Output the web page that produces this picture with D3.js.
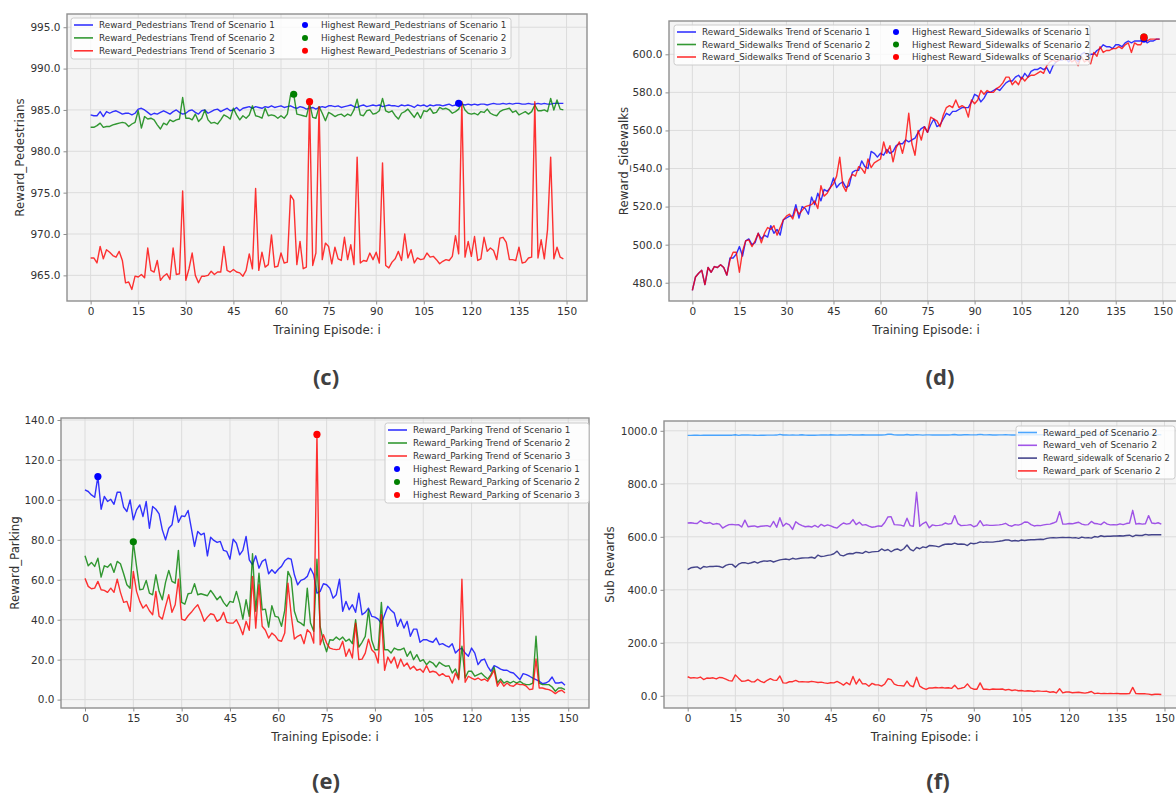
<!DOCTYPE html>
<html>
<head>
<meta charset="utf-8">
<script src="https://cdn.jsdelivr.net/npm/d3@7"></script>
<style>
  body { margin: 0; background: #fff; }
  svg { display: block; }
</style>
</head>
<body>
<svg id="chart" width="1176" height="796"></svg>
<script>
// episodes on the x axis
const episodes = d3.range(150);
const xTicks = [0, 15, 30, 45, 60, 75, 90, 105, 120, 135, 150];

// (c) Reward_Pedestrians
const pedTicks = [965, 970, 975, 980, 985, 990, 995];
const pedS1 = [984.4,984.3,984.3,984.8,984.2,984.8,984.6,984.8,984.9,984.7,
  984.5,984.6,984.6,984.4,984.6,985.1,985.2,985.0,984.7,984.4,
  984.6,984.5,984.7,984.9,984.7,984.5,984.8,985.0,984.7,984.5,
  984.6,984.9,985.0,984.7,984.5,984.9,985.0,984.6,984.8,985.0,
  985.1,984.8,985.0,985.2,984.9,985.0,985.3,984.9,985.2,985.3,
  985.4,985.2,985.4,985.3,985.2,985.4,985.3,985.5,985.3,985.4,
  985.5,985.3,985.4,985.5,985.3,985.2,985.4,985.3,985.1,985.2,
  985.3,985.1,985.3,985.4,985.3,985.5,985.5,985.4,985.5,985.3,
  985.4,985.5,985.6,985.4,985.3,985.5,985.6,985.4,985.5,985.6,
  985.5,985.6,985.4,985.5,985.6,985.5,985.5,985.4,985.6,985.5,
  985.6,985.5,985.3,985.6,985.5,985.6,985.4,985.6,985.5,985.6,
  985.6,985.5,985.6,985.7,985.5,985.6,985.8,985.7,985.6,985.7,
  985.6,985.7,985.6,985.7,985.7,985.6,985.7,985.8,985.7,985.7,
  985.8,985.7,985.8,985.7,985.8,985.8,985.7,985.7,985.8,985.7,
  985.7,985.8,985.7,985.8,985.7,985.7,985.8,985.8,985.8,985.8];
const pedS2 = [982.9,982.9,983.1,983.4,982.9,983.0,983.0,983.2,983.3,983.4,
  983.5,983.4,983.0,983.3,983.5,984.9,982.8,984.2,983.9,984.0,
  983.8,983.2,982.7,983.4,983.2,983.8,983.6,983.8,983.9,986.5,
  984.0,984.0,983.8,984.5,983.6,984.0,985.0,983.8,983.4,983.5,
  983.3,983.8,984.4,984.2,983.9,985.2,984.4,983.8,984.3,984.0,
  984.4,985.5,984.3,984.2,984.0,985.2,984.3,984.4,984.3,984.0,
  984.3,984.0,984.5,986.8,986.9,984.5,984.4,984.3,984.2,985.8,
  984.1,984.0,985.4,984.6,983.7,984.7,984.5,984.2,984.4,984.5,
  984.2,984.5,984.3,985.0,986.3,984.4,984.3,984.9,985.0,984.5,
  984.6,984.9,986.4,984.9,984.7,984.9,984.3,983.9,984.6,984.8,
  985.1,984.6,984.1,984.7,984.0,984.9,984.8,985.2,984.6,984.7,
  985.3,985.1,985.2,985.0,984.6,984.8,985.1,985.9,985.0,984.6,
  984.5,984.6,984.4,984.8,984.7,985.1,984.6,984.4,984.3,984.8,
  985.0,985.1,985.2,984.7,984.9,984.4,984.6,984.8,984.5,984.8,
  985.6,984.9,984.9,985.0,984.8,986.4,985.0,986.2,985.1,985.0];
const pedS3 = [967.1,967.1,966.5,968.5,967.0,968.1,967.8,967.4,967.2,967.9,
  966.8,964.1,964.2,963.3,964.9,964.8,965.1,964.7,968.3,965.6,
  965.4,966.8,964.4,964.9,965.2,964.5,968.3,965.1,965.2,975.2,
  964.4,965.8,967.7,965.0,964.1,964.9,964.9,965.0,965.5,965.1,
  965.4,965.4,968.5,965.6,965.4,965.7,965.4,965.3,964.9,965.6,
  967.6,965.8,975.5,965.6,967.8,966.0,966.3,969.9,966.0,966.1,
  967.7,966.5,966.6,974.7,974.1,966.3,969.1,965.8,966.0,986.0,
  966.2,967.7,985.4,966.9,968.9,968.5,966.4,968.4,967.0,966.8,
  969.6,966.9,968.7,966.3,979.3,966.5,966.8,966.7,967.7,966.9,
  967.8,966.5,978.6,966.2,965.9,966.6,967.0,967.9,966.8,970.0,
  967.1,968.1,966.5,967.1,966.9,967.0,967.7,967.2,967.3,966.9,
  966.4,966.7,966.9,966.8,967.3,969.8,967.6,986.0,967.2,969.1,
  967.3,969.7,966.8,967.0,969.6,967.9,968.3,968.0,966.9,969.5,
  969.6,969.0,966.9,966.9,966.8,968.4,966.5,966.6,967.1,967.2,
  986.0,967.1,969.3,967.0,970.5,979.3,967.0,968.4,967.2,967.0];

// (d) Reward_Sidewalks
const sideTicks = [480, 500, 520, 540, 560, 580, 600];
const sideS3 = [476,483,485,486.5,479,488,485.5,488.5,488,489.5,
  488,484,492,496,496,485.5,496.5,502,502.5,499,
  502,506,501,506,509,508,510,505,509,513,
  515,516,513.5,519,516,518,520,520.5,521,523,
  519,531,525.5,527,530,532,536,546,531,528,
  534,537,536,541,540,537.5,545,540.5,543,544,
  545,554,548,552,543.5,551,554,548,555,569,
  553,547,560,555,562,559,567,566,565,562,
  568,572,573,572,576,572,573,572,567,576,
  574,576,581,579,581,580,580,582,583,585,
  588,588,584,586,584,588,586,588,589,589,
  590,591,590,594,596,597,596,597,598,597,
  598,596,597,594,599,596,597,595,601,599,
  604,601,602,602,603,603,604,603,605,606,
  601,606,605,605,609,607,608,608,608,608];
const sideS1 = [476,483,485,486.5,479,488,485.5,488.5,488,489.5,
  488,484,493,493,495,499,494,502,503,500,
  501,506,503,505,504,510,506,508,505,513,
  514,515,515,521,514,520,519,516,525,521,
  527,523,529,528,530,535,530,532,533,530,
  531,538,539,539,544,541,540,549,548,546,
  548,547,550,548,549,552,553,553,555,554,
  555,556,559,561,562,559,563,566,562,563,
  566,569,568,570,570,571,572,572,572,575,
  579,578,575,577,580,580,581,582,581,583,
  585,586,586,588,589,587,590,588,591,592,
  592,593,592,593,590,594,596,597,597,598,
  596,598,598,596,600,601,599,600,600,602,
  603,605,604,604,603,605,605,604,606,607,
  606,607,607,607,608,606,607,607,608,608];
// scenario 2 lies exactly under scenario 3 in the picture
const sideS2 = sideS3;

// (e) Reward_Parking
const parkTicks = [0, 20, 40, 60, 80, 100, 120, 140];
const parkS1 = [105,104.2,102.5,101.3,111.7,95.3,101.7,99.2,100.3,97.8,
  103.8,103.8,96.3,94.2,100,90,95,97.5,91.7,99.2,
  85.8,96.7,95.3,93,85,80,85.8,87.5,97,88.8,
  92,91.7,94.7,85.8,76.7,84.2,82.5,83.3,72,81.3,
  79.7,78.7,79.2,74.7,74.2,70.3,80.3,78.3,72.5,74.7,
  81.7,70,67.5,72,65.8,69.2,70.3,63,65,63.3,
  65.3,66.7,69.5,70.8,70.3,62.5,57.5,59.7,60.3,61.7,
  65.8,62.5,53.3,54.2,58,57.5,55.8,50.8,52.5,60.3,
  44.2,49.2,45,47.5,43.7,53.3,42.5,43.7,45.8,41.7,
  41.3,40.3,38,42.5,46.7,44.7,43.3,36.7,40.3,35.8,
  39.2,31.7,35.3,35.3,28.7,30,30,29.2,28.7,30.8,
  27.5,28,27,26.3,28,23.3,25,25.8,23.3,21.7,
  25.8,23.3,17.5,19.7,20.3,16.7,14.2,17,16.3,15.3,
  14.7,14.7,13.7,13.3,11.7,10,13,12.5,11.7,10.8,
  10,9.2,8,8.3,9.2,11.3,8.3,8.3,8.7,7.2];
const parkS2 = [72,67,68.7,66.7,70.8,61.3,67,66.3,68,63.7,
  69.2,68,63,57.5,55.8,79,66.7,55,55.3,59.7,
  53.3,52.5,62.5,54.2,50,58.7,64.7,59.2,58.3,74.7,
  48.7,47.8,53,53.3,58,52.5,53,52.5,52,54.7,
  52.5,50,51.7,48.7,46.7,49.2,48.7,54.2,48.3,40.3,
  50,41.7,73,44.2,63.3,45,45.3,36.3,47,41.7,
  41.3,36.7,44.7,64.2,60.8,44.2,39.2,38.3,37,55.8,
  38.3,34.2,70.3,36.5,29,24,30,29.7,31.3,30,
  31.3,29.2,30.3,28,40,26.3,28.7,31.7,45,29.7,
  25,25,48.7,25,25,23.3,25.8,25,25,25.8,
  21.7,24.2,20,22.5,19.2,20,17.5,19.2,18.3,16.3,
  18.7,17.5,16.7,17,13.3,15.3,10.8,26.7,10.8,14.2,
  14.2,11.7,12.5,13.3,11.7,10.3,12.5,16.3,8.3,10.3,
  8.3,9.2,8.3,9.2,8.3,9.2,8,7.5,7.5,8.3,
  31.7,8.3,7.5,7.5,7.5,6.3,4.2,5.8,5.8,5];
const parkS3 = [60.7,56.7,55.5,55.8,59.2,55,54.7,53.7,55.8,53.7,
  60.3,53.7,48.7,49.2,44.2,64.2,54.2,49.2,45.8,47.5,
  44.5,42.5,54.2,41.7,40.3,46.7,52.5,43.7,47.5,60.3,
  40.3,39.7,42,43.7,45.8,47.5,43.7,39.2,41.3,43,
  42.5,39.2,40.3,43.7,38.7,38.3,38.3,40,36.7,32.5,
  39.2,34.7,61.7,35.8,57.5,36.7,34.7,30.8,33.3,32,
  29.7,29.2,33.3,58.3,42.5,30.3,31.7,32.5,28,35,
  33.3,28.3,132.8,27.5,32.5,28.3,25.8,25.3,25,25.3,
  29.2,21.7,25.3,20.8,38.3,20,20.3,23.3,30.3,25,
  23.3,18.3,42.5,14.7,21.3,18.3,21.3,15.8,20.3,16.7,
  18.3,15.3,16.7,14.7,15.3,13.7,17,13.7,14.2,13.7,
  12,13,11.7,11.7,8.3,13.3,10,60.3,8.7,11.7,
  10.8,10,10.8,9.7,10.3,9.2,11.7,14.7,6.7,9.2,
  6.7,8.3,7,6.7,8,7.5,7.5,6.7,5,5.3,
  20.3,5.8,5.8,5.3,5,4.2,3,4.2,4.7,3.3];

// (f) Sub Rewards of scenario 2
const subTicks = [0, 200, 400, 600, 800, 1000];
const vehS2 = [652,653,651,650,661,653,651,654,647,650,
  648,633,640,646,647,645,646,637,663,638,
  640,641,637,640,641,642,638,658,636,672,
  640,651,645,628,657,648,642,638,640,637,
  643,636,647,640,645,641,636,633,644,652,
  648,650,665,646,655,644,646,640,636,638,
  641,640,654,675,676,646,645,644,640,670,
  642,640,768,640,650,656,634,645,642,643,
  645,652,648,650,680,650,642,643,644,646,
  638,642,661,642,645,643,643,644,645,647,
  651,643,640,646,644,648,656,655,646,641,
  643,642,645,647,648,652,657,695,648,648,
  650,649,652,655,648,645,646,658,650,649,
  646,656,648,645,646,645,649,646,650,652,
  700,648,650,648,649,680,652,650,653,648];

const svg = d3.select("#chart");
const FONT = "DejaVu Sans, sans-serif";
const xDomain = [-7.45, 156.45];

function drawPanel(p) {
  const g = svg.append("g");
  const x = d3.scaleLinear().domain(xDomain).range([p.left, p.right]);
  const y = d3.scaleLinear().domain(p.yDomain).range([p.bottom, p.top]);

  g.append("rect")
    .attr("x", p.left).attr("y", p.top)
    .attr("width", p.right - p.left).attr("height", p.bottom - p.top)
    .attr("fill", "#f4f4f4");

  // grid
  g.selectAll(".gx").data(xTicks).join("line")
    .attr("x1", d => x(d)).attr("x2", d => x(d))
    .attr("y1", p.top).attr("y2", p.bottom)
    .attr("stroke", "#dcdcdc").attr("stroke-width", 1);
  g.selectAll(".gy").data(p.yTicks).join("line")
    .attr("x1", p.left).attr("x2", p.right)
    .attr("y1", d => y(d)).attr("y2", d => y(d))
    .attr("stroke", "#dcdcdc").attr("stroke-width", 1);

  const line = d3.line().x((d, i) => x(episodes[i])).y(d => y(d));
  p.series.forEach(s => {
    if (s.hidden) return; // covered by another series in the picture
    g.append("path")
      .attr("d", line(s.values))
      .attr("fill", "none")
      .attr("stroke", s.color)
      .attr("stroke-opacity", 0.8)
      .attr("stroke-width", 1.4)
      .attr("stroke-linejoin", "round");
  });

  // highest points
  (p.dots || []).forEach(s => {
    const k = d3.maxIndex(s.values);
    g.append("circle")
      .attr("cx", x(episodes[k])).attr("cy", y(s.values[k]))
      .attr("r", 3.6).attr("fill", s.color);
  });

  g.append("rect")
    .attr("x", p.left).attr("y", p.top)
    .attr("width", p.right - p.left).attr("height", p.bottom - p.top)
    .attr("fill", "none").attr("stroke", "#8f8f8f").attr("stroke-width", 1.4);

  const ax = g.append("g")
    .attr("transform", "translate(0," + p.bottom + ")")
    .call(d3.axisBottom(x).tickValues(xTicks).tickSize(3.5).tickPadding(3).tickFormat(d3.format("d")));
  const ay = g.append("g")
    .attr("transform", "translate(" + p.left + ",0)")
    .call(d3.axisLeft(y).tickValues(p.yTicks).tickSize(3.5).tickPadding(3).tickFormat(d3.format(".1f")));
  [ax, ay].forEach(a => {
    a.select(".domain").remove();
    a.selectAll("line").attr("stroke", "#8f8f8f");
    a.selectAll("text").attr("fill", "#333").style("font-family", FONT).style("font-size", "10.5px");
  });

  g.append("text")
    .attr("x", (p.left + p.right) / 2).attr("y", p.bottom + 33)
    .attr("text-anchor", "middle")
    .style("font-family", FONT).style("font-size", "11.8px").attr("fill", "#333")
    .text("Training Episode: i");
  g.append("text")
    .attr("transform", "translate(" + p.yLabelX + "," + (p.top + p.bottom) / 2 + ") rotate(-90)")
    .attr("text-anchor", "middle").attr("dy", "0.35em")
    .style("font-family", FONT).style("font-size", "11.8px").attr("fill", "#333")
    .text(p.yLabel);

  // legend
  const L = p.legend;
  g.append("rect")
    .attr("x", L.x).attr("y", L.y).attr("width", L.w).attr("height", L.h)
    .attr("rx", 2.5)
    .attr("fill", "#fff").attr("fill-opacity", 0.8)
    .attr("stroke", "#cccccc").attr("stroke-width", 1);
  L.items.forEach(it => {
    if (it.kind === "line") {
      g.append("line")
        .attr("x1", it.x).attr("x2", it.x + 19)
        .attr("y1", it.y).attr("y2", it.y)
        .attr("stroke", it.color).attr("stroke-opacity", 0.8).attr("stroke-width", 1.6);
    } else {
      g.append("circle").attr("cx", it.x + 9).attr("cy", it.y).attr("r", 3)
        .attr("fill", it.color);
    }
    g.append("text").attr("x", it.x + 25).attr("y", it.y).attr("dy", "0.35em")
      .style("font-family", FONT).style("font-size", (it.size || 8.8) + "px").attr("fill", "#333")
      .text(it.label);
  });

  svg.append("text")
    .attr("x", p.tagX).attr("y", p.tagY)
    .attr("text-anchor", "middle")
    .style("font-family", "Open Sans, sans-serif").style("font-weight", "bold").style("font-size", "22px")
    .attr("fill", "#404040")
    .text(p.tag);
}

const BLUE = "#0000ff", GREEN = "#008000", RED = "#ff0000";

function threeScenarioLegend(name, x, y, w, h, rowH, col2) {
  const items = [];
  [BLUE, GREEN, RED].forEach((c, i) => {
    items.push({ kind: "line", color: c, x: x + 3, y: y + 7 + i * rowH, label: "Reward_" + name + " Trend of Scenario " + (i + 1) });
  });
  [BLUE, GREEN, RED].forEach((c, i) => {
    const cx = col2 == null ? x + 3 : col2;
    const cy = col2 == null ? y + 7 + (i + 3) * rowH : y + 7 + i * rowH;
    items.push({ kind: "dot", color: c, x: cx, y: cy, label: "Highest Reward_" + name + " of Scenario " + (i + 1) });
  });
  return { x: x, y: y, w: w, h: h, items: items };
}

drawPanel({
  left: 67, right: 587, top: 14, bottom: 301,
  yDomain: [961.9, 996.6], yTicks: pedTicks,
  yLabel: "Reward_Pedestrians", yLabelX: 20,
  series: [{ values: pedS1, color: BLUE }, { values: pedS2, color: GREEN }, { values: pedS3, color: RED }],
  dots: [{ values: pedS1, color: BLUE }, { values: pedS2, color: GREEN }, { values: pedS3, color: RED }],
  legend: threeScenarioLegend("Pedestrians", 71, 18, 440, 41, 12.9, 296),
  tag: "(c)", tagX: 326, tagY: 385
});

drawPanel({
  left: 669, right: 1183, top: 21, bottom: 301,
  yDomain: [470.4, 617.5], yTicks: sideTicks,
  yLabel: "Reward_Sidewalks", yLabelX: 624,
  series: [{ values: sideS1, color: BLUE }, { values: sideS2, color: GREEN, hidden: true }, { values: sideS3, color: RED }],
  dots: [{ values: sideS1, color: BLUE }, { values: sideS2, color: GREEN }, { values: sideS3, color: RED }],
  legend: threeScenarioLegend("Sidewalks", 674, 25, 416, 40, 12.5, 887),
  tag: "(d)", tagX: 940, tagY: 385
});

drawPanel({
  left: 61, right: 589, top: 418, bottom: 708,
  yDomain: [-4.2, 141], yTicks: parkTicks,
  yLabel: "Reward_Parking", yLabelX: 15,
  series: [{ values: parkS1, color: BLUE }, { values: parkS2, color: GREEN }, { values: parkS3, color: RED }],
  dots: [{ values: parkS1, color: BLUE }, { values: parkS2, color: GREEN }, { values: parkS3, color: RED }],
  legend: threeScenarioLegend("Parking", 385, 423, 204, 80, 13, null),
  tag: "(e)", tagX: 326, tagY: 789
});

drawPanel({
  left: 664, right: 1185, top: 421, bottom: 708,
  yDomain: [-46, 1037], yTicks: subTicks,
  yLabel: "Sub Rewards", yLabelX: 610,
  series: [
    { values: pedS2, color: "#1e90ff" },
    { values: vehS2, color: "#8a2be2" },
    { values: sideS2, color: "#191970" },
    { values: parkS2, color: "#ff0000" }
  ],
  legend: {
    x: 1016, y: 426, w: 159, h: 53,
    items: [
      { kind: "line", color: "#1e90ff", x: 1018, y: 432.5, label: "Reward_ped of Scenario 2" },
      { kind: "line", color: "#8a2be2", x: 1018, y: 445.3, label: "Reward_veh of Scenario 2" },
      { kind: "line", color: "#191970", x: 1018, y: 458.1, label: "Reward_sidewalk of Scenario 2", size: 8.2 },
      { kind: "line", color: "#ff0000", x: 1018, y: 470.9, label: "Reward_park of Scenario 2" }
    ]
  },
  tag: "(f)", tagX: 938, tagY: 789
});
</script>
</body>
</html>
